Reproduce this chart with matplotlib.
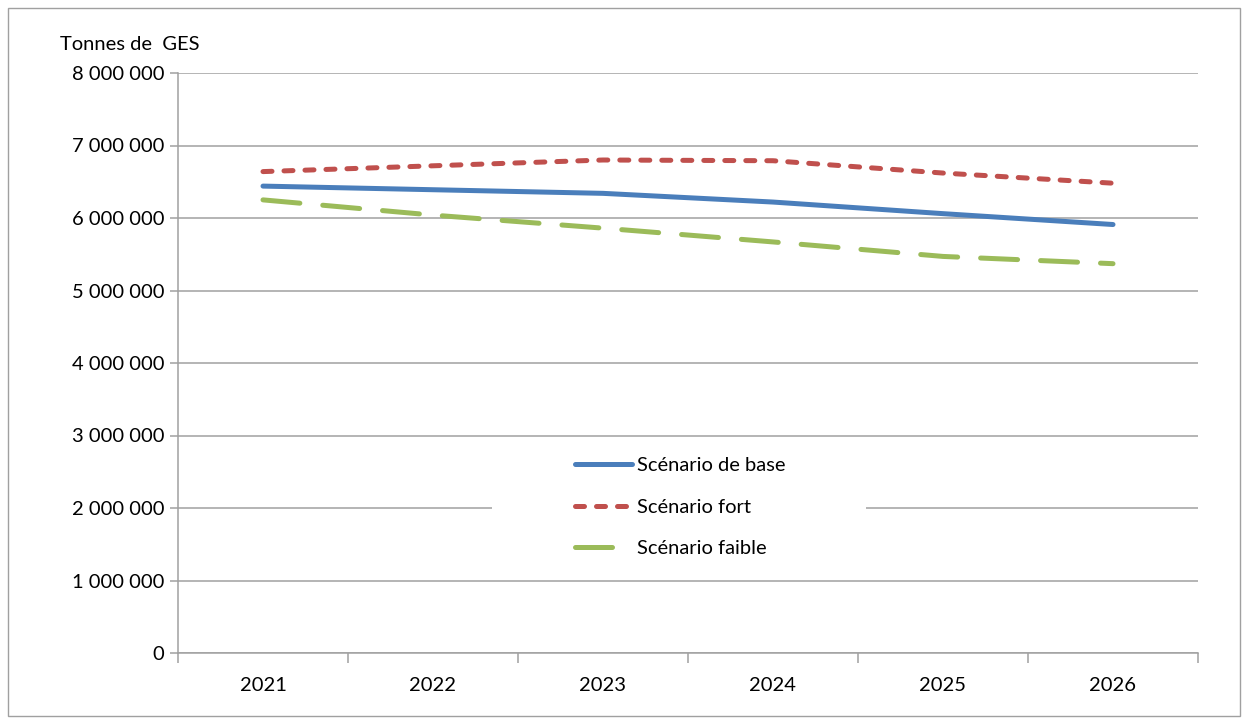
import matplotlib
matplotlib.use("Agg")
import matplotlib.pyplot as plt
from matplotlib.patches import Rectangle
from matplotlib.ticker import FixedLocator, FuncFormatter

years = ["2021", "2022", "2023", "2024", "2025", "2026"]
base = [6440000, 6390000, 6340000, 6220000, 6060000, 5910000]
fort = [6640000, 6720000, 6800000, 6790000, 6620000, 6480000]
faible = [6250000, 6040000, 5860000, 5670000, 5470000, 5370000]
series_names = ["Scénario de base", "Scénario fort", "Scénario faible"]
y_label = "Tonnes de  GES"

plt.rcParams['font.family'] = ['Lato', 'DejaVu Sans']

W, H = 1248, 720
FS = 14.5
fig = plt.figure(figsize=(W / 100, H / 100), dpi=100)
ax = fig.add_axes([178 / W, 1 - 653 / H, (1198 - 178) / W, (653 - 73) / H])

x = list(range(len(years)))
lw = 3.6
l1, = ax.plot(x, base, color="#4a7ebb", lw=lw, solid_capstyle="round", label=series_names[0], zorder=3)
l2, = ax.plot(x, fort, color="#c0504d", lw=lw, dash_capstyle="round", dashes=(1.8, 2.4), label=series_names[1], zorder=3)
l3, = ax.plot(x, faible, color="#9bbb59", lw=lw, dash_capstyle="round", dashes=(7.4, 4.6), label=series_names[2], zorder=3)

ax.set_xlim(-0.5, len(years) - 0.5)
ax.set_ylim(0, 8000000)
ax.yaxis.set_major_locator(FixedLocator([i * 1000000 for i in range(9)]))
ax.yaxis.set_major_formatter(FuncFormatter(lambda v, p: "0" if v == 0 else f"{int(v):,}".replace(",", " ")))
ax.grid(axis="y", color="#a0a0a0", lw=1.1, zorder=0)
ax.set_axisbelow(True)

ax.set_xticks([i - 0.5 for i in range(len(years) + 1)])
ax.set_xticklabels([])
ax.set_xticks(x, minor=True)
ax.set_xticklabels(years, minor=True)
ax.tick_params(axis="x", which="major", length=7, color="#a0a0a0", width=1.1)
ax.tick_params(axis="x", which="minor", length=0, pad=17, labelsize=FS)
ax.tick_params(axis="y", length=6, color="#a0a0a0", width=1.1, labelsize=FS, pad=4)

for s in ["top", "right"]:
    ax.spines[s].set_visible(False)
for s in ["left", "bottom"]:
    ax.spines[s].set_color("#a0a0a0")
    ax.spines[s].set_linewidth(1.1)

fig.text(60 / W, 1 - 45 / H, y_label, fontsize=FS, va="center", ha="left")

# white legend background interrupting the gridline
ax.add_patch(Rectangle(((492 - 178) / 1020, (653 - 522) / 580), (866 - 492) / 1020, 30 / 580,
                       transform=ax.transAxes, facecolor="white", edgecolor="none", zorder=1))

leg = ax.legend(handles=[l1, l2, l3], loc="center", bbox_to_anchor=((680 - 178) / (1198 - 178), (653 - 507) / (653 - 73)),
                frameon=False, fontsize=FS, handlelength=2.85, labelspacing=1.2, handletextpad=0.25,
                borderpad=0, borderaxespad=0)
leg.set_zorder(4)

fig.add_artist(Rectangle((8 / W, 1 - 716 / H), (1240 - 8) / W, (716 - 8) / H, transform=fig.transFigure,
                         fill=False, edgecolor="#a0a0a0", lw=1.0))

fig.savefig("out.png", dpi=100)
